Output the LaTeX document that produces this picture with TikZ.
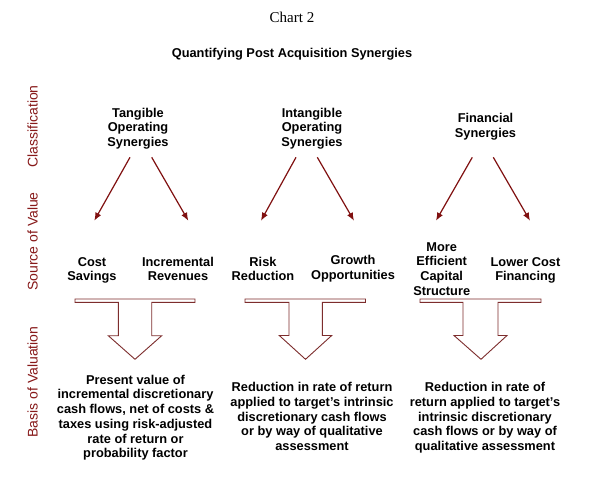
\documentclass[tikz,border=0pt]{standalone}
\usepackage{fontspec}
\setmainfont{Liberation Sans}
\newfontfamily\chartserif{Liberation Serif}
\usetikzlibrary{arrows.meta}
\definecolor{darkred}{RGB}{128,16,16}
\definecolor{labelred}{RGB}{135,25,25}
\definecolor{outlinered}{RGB}{125,45,45}
\begin{document}
\begin{tikzpicture}[x=1bp,y=-1bp,
  lbl/.style={font=\bfseries\fontsize{12.8bp}{14.7bp}\selectfont, align=center, inner sep=0pt},
  sidelbl/.style={font=\fontsize{14bp}{16bp}\selectfont, text=labelred, rotate=90, anchor=base, inner sep=0pt},
  conn/.style={draw=darkred, line width=1.2bp, -{Latex[length=8bp,width=6.5bp]}},
  tblock/.style={draw=outlinered, line width=0.9bp, fill=white, line join=miter}]
\useasboundingbox (0,0) rectangle (600,497);
\fill[white] (0,0) rectangle (600,497);

% titles
\node[inner sep=0pt, anchor=base, font=\chartserif\fontsize{15bp}{17bp}\selectfont] (chart) at (292,22.7) {Chart 2};
\node[lbl, anchor=base] (title) at (292,57.3) {Quantifying Post Acquisition Synergies};

% side labels
\node[sidelbl] (cls) at (37.7,126.5) {Classification};
\node[sidelbl] (src) at (37.7,241.5) {Source of Value};
\node[sidelbl] (bas) at (37.7,382) {Basis of Valuation};

% classification
\node[lbl] (tang) at (138,128.7) {Tangible\\Operating\\Synergies};
\node[lbl] (intang) at (312,128.7) {Intangible\\Operating\\Synergies};
\node[lbl] (fin) at (485.5,126.4) {Financial\\Synergies};

% source of value
\node[lbl] (cost) at (92,270.4) {Cost\\Savings};
\node[lbl] (rev) at (178,269) {Incremental\\Revenues};
\node[lbl] (risk) at (263,269) {Risk\\Reduction};
\node[lbl] (growth) at (353,268.7) {Growth\\Opportunities};
\node[lbl] (capital) at (441.7,268.9) {More\\Efficient\\Capital\\Structure};
\node[lbl] (lower) at (525.5,270.4) {Lower Cost\\Financing};

% basis of valuation
\node[lbl] (pv) at (135.5,417.7) {Present value of\\incremental discretionary\\cash flows, net of costs \&\\taxes using risk-adjusted\\rate of return or\\probability factor};
\node[lbl] (red1) at (312,416.5) {Reduction in rate of return\\applied to target's intrinsic\\discretionary cash flows\\or by way of qualitative\\assessment};
\node[lbl] (red2) at (485,417.9) {Reduction in rate of\\return applied to target's\\intrinsic discretionary\\cash flows or by way of\\qualitative assessment};

% arrow end points
\coordinate (tangL) at (130,157.3);   \coordinate (costT) at (94.3,220.7);
\coordinate (tangR) at (151.7,157.3); \coordinate (revT) at (188.3,220.7);
\coordinate (intL) at (296,157.3);    \coordinate (riskT) at (261,220.7);
\coordinate (intR) at (317.3,157.3);  \coordinate (growT) at (354,220.7);
\coordinate (finL) at (472.3,157.3);  \coordinate (capT) at (436,220.7);
\coordinate (finR) at (493.3,157.3);  \coordinate (lowT) at (530,220.7);

\draw[conn] (tangL) -- (costT);
\draw[conn] (tangR) -- (revT);
\draw[conn] (intL) -- (riskT);
\draw[conn] (intR) -- (growT);
\draw[conn] (finL) -- (capT);
\draw[conn] (finR) -- (lowT);

% block arrows
\draw[tblock] (75,299) -- (195,299) -- (195,302.3) -- (151.7,302.3) -- (151.7,335.7) -- (161.7,335.7) -- (135,359.3) -- (108.3,335.7) -- (118.3,335.7) -- (118.3,302.3) -- (75,302.3) -- cycle;
\draw[tblock] (245,299) -- (365.5,299) -- (365.5,302.3) -- (322.3,302.3) -- (322.3,335.5) -- (331.7,335.5) -- (305.5,359.3) -- (279.3,335.5) -- (289,335.5) -- (289,302.3) -- (245,302.3) -- cycle;
\draw[tblock] (420,299) -- (541,299) -- (541,302.3) -- (498,302.3) -- (498,335.5) -- (507,335.5) -- (481,359.3) -- (454,335.5) -- (463,335.5) -- (463,302.3) -- (420,302.3) -- cycle;
\end{tikzpicture}
\end{document}
